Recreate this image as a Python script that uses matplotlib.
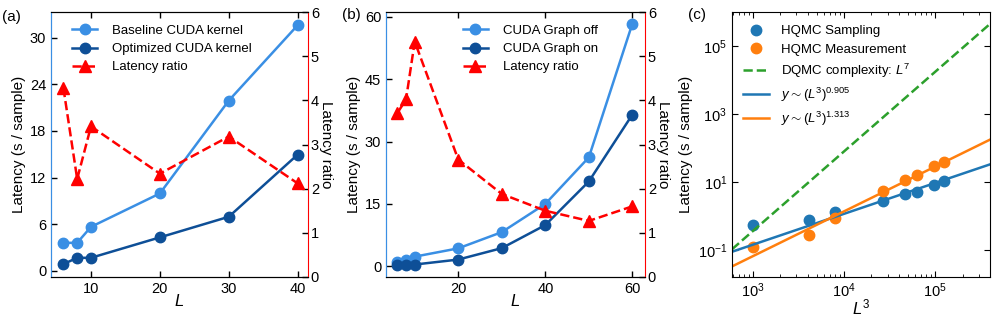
import matplotlib
matplotlib.use("Agg")
import matplotlib.pyplot as plt
import numpy as np
from matplotlib.ticker import FixedLocator, LogLocator, NullLocator

plt.rcParams['font.family'] = ['Liberation Sans', 'DejaVu Sans']
plt.rcParams['mathtext.fontset'] = 'custom'
plt.rcParams['mathtext.rm'] = 'Liberation Sans'
plt.rcParams['mathtext.it'] = 'Liberation Sans:italic'
plt.rcParams['font.size'] = 10.5

# ---- panel (a) data
L_a = [6, 8, 10, 20, 30, 40]
baseline_a = [3.6, 3.6, 5.65, 9.95, 21.9, 31.6]
optimized_a = [0.86, 1.67, 1.67, 4.3, 6.95, 14.95]
ratio_a = [4.28, 2.22, 3.41, 2.34, 3.18, 2.12]

# ---- panel (b) data
L_b = [6, 8, 10, 20, 30, 40, 50, 60]
graph_off = [1.05, 1.4, 2.3, 4.3, 8.2, 15.0, 26.2, 58.4]
graph_on = [0.25, 0.25, 0.4, 1.6, 4.35, 9.9, 20.4, 36.5]
ratio_b = [3.71, 4.02, 5.33, 2.66, 1.88, 1.5, 1.27, 1.6]

# ---- panel (c) data
L_c = np.array([10, 16, 20, 30, 36, 40, 46, 50])
sampling = [0.55, 0.8, 1.35, 2.76, 4.5, 5.3, 8.5, 10.6]
measurement = [0.125, 0.275, 0.9, 5.66, 11.4, 15.9, 30.4, 38.0]
fit_sampling = (0.905, -3.547)      # exponent, log10 prefactor
fit_measure = (1.313, -5.107)
dqmc = (7 / 3, -7.43)

c_light = '#3a8fe4'
c_dark = '#0e4f97'
c_red = '#ff0000'

fig = plt.figure(figsize=(9.97, 3.18), dpi=100)
W, H = 997, 318


def add_ax(left, right, top=12, bottom=277):
    return fig.add_axes([left / W, 1 - bottom / H, (right - left) / W, (bottom - top) / H])


def dual_panel(ax, L, y1, y2, ratio, lab1, lab2, ylim, yticks, xlim, xticks, leg_x):
    ax.plot(L, y1, '-o', color=c_light, lw=1.8, ms=7.5, label=lab1)
    ax.plot(L, y2, '-o', color=c_dark, lw=1.8, ms=7.5, label=lab2)
    ax.set_xlim(*xlim)
    ax.set_ylim(*ylim)
    ax.set_xticks(xticks)
    ax.set_yticks(yticks)
    ax.tick_params(direction='in', length=4, width=1, labelsize=10.5, top=True, right=False)
    ax.set_xlabel('$L$', fontsize=12, labelpad=-2)
    ax.set_ylabel('Latency (s / sample)', fontsize=11, labelpad=3)
    ax.spines['left'].set_color(c_light)
    ax.spines['right'].set_visible(False)
    ax2 = ax.twinx()
    ax2.plot(L, ratio, '--^', color=c_red, lw=1.8, ms=8, label='Latency ratio')
    ax2.set_ylim(0, 6)
    ax2.set_yticks(range(7))
    ax2.tick_params(direction='in', length=4, width=1, labelsize=10.5, pad=2)
    ax2.spines['right'].set_color(c_red)
    ax2.spines['left'].set_color(c_light)
    ax2.set_ylabel('Latency ratio', fontsize=11, rotation=270, va='bottom', labelpad=0)
    h1, l1 = ax.get_legend_handles_labels()
    h2, l2 = ax2.get_legend_handles_labels()
    ax2.legend(h1 + h2, l1 + l2, frameon=False, fontsize=9.5, loc='upper left',
               bbox_to_anchor=(leg_x, 0.952), borderaxespad=0, borderpad=0,
               handlelength=1.9, handletextpad=1.1, labelspacing=0.45)
    return ax2


ax_a = add_ax(51, 308)
dual_panel(ax_a, L_a, baseline_a, optimized_a, ratio_a,
           'Baseline CUDA kernel', 'Optimized CUDA kernel',
           (-0.8, 33.3), [0, 6, 12, 18, 24, 30], (4.2, 41.5), [10, 20, 30, 40], 0.082)

ax_b = add_ax(386, 645)
dual_panel(ax_b, L_b, graph_off, graph_on, ratio_b,
           'CUDA Graph off', 'CUDA Graph on',
           (-2.6, 61.2), [0, 15, 30, 45, 60], (3.4, 62.9), [20, 40, 60], 0.297)

# ---- panel (c)
ax_c = add_ax(732, 990)
x3 = L_c ** 3
ax_c.set_xscale('log')
ax_c.set_yscale('log')
xlim = (589, 4.0e5)
xx = np.array(xlim)
ax_c.plot(x3, sampling, 'o', color='tab:blue', ms=7.5, label='HQMC Sampling')
ax_c.plot(x3, measurement, 'o', color='tab:orange', ms=7.5, label='HQMC Measurement')
ax_c.plot(xx, 10 ** (dqmc[1] + dqmc[0] * np.log10(xx)), '--', color='tab:green', lw=1.8,
          label='DQMC complexity: $L^7$')
ax_c.plot(xx, 10 ** (fit_sampling[1] + fit_sampling[0] * np.log10(xx)), '-', color='tab:blue', lw=1.8,
          label=r'$y\sim(L^3)^{0.905}$')
ax_c.plot(xx, 10 ** (fit_measure[1] + fit_measure[0] * np.log10(xx)), '-', color='tab:orange', lw=1.8,
          label=r'$y\sim(L^3)^{1.313}$')
ax_c.set_xlim(*xlim)
ax_c.set_ylim(0.0166, 9.8e5)
ax_c.yaxis.set_major_locator(FixedLocator([1e-1, 1e1, 1e3, 1e5]))
ax_c.yaxis.set_minor_locator(NullLocator())
ax_c.xaxis.set_minor_locator(LogLocator(subs=np.arange(2, 10)))
ax_c.tick_params(which='both', direction='in', top=True, right=True, labelsize=10.5)
ax_c.tick_params(which='major', length=4)
ax_c.tick_params(which='minor', length=2)
ax_c.set_xlabel('$L^3$', fontsize=12, labelpad=-2)
ax_c.set_ylabel('Latency (s / sample)', fontsize=11, labelpad=3)
ax_c.legend(frameon=False, fontsize=9.5, loc='upper left', bbox_to_anchor=(0.043, 0.95),
            borderaxespad=0, borderpad=0, handlelength=2.0, handletextpad=0.9, labelspacing=0.45)

fig.text(2 / W, 1 - 17 / H, '(a)', fontsize=11, va='center')
fig.text(342 / W, 1 - 15 / H, '(b)', fontsize=11, va='center')
fig.text(688 / W, 1 - 15 / H, '(c)', fontsize=11, va='center')

fig.savefig('out.png', dpi=100)
